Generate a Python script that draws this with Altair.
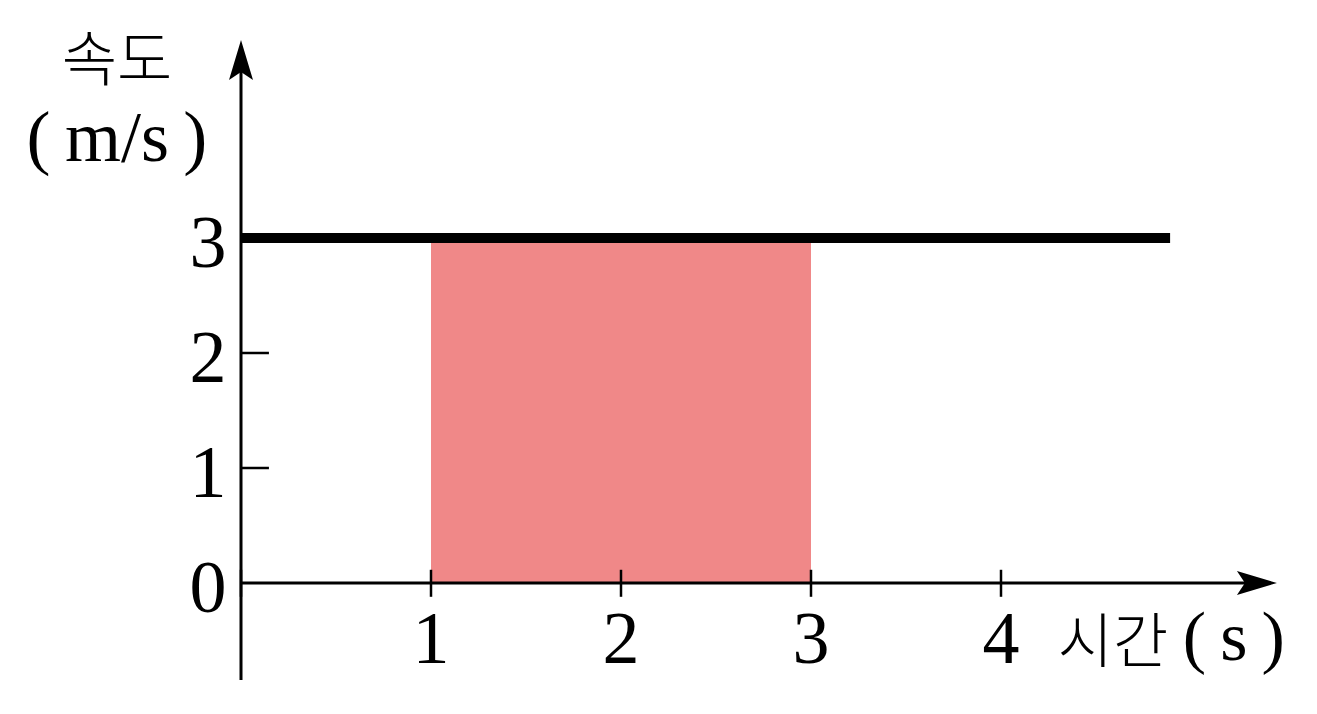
import altair as alt
import pandas as pd

# ---- data ----
x_ticks = [1, 2, 3, 4]
y_ticks = [0, 1, 2, 3]
x_tick_labels = ["1", "2", "3", "4"]
y_tick_labels = ["0", "1", "2", "3"]
speed = [3, 3]            # constant speed (m/s)
speed_t = [0, 4.89]       # time span of the drawn line
area_t = [1, 3]           # shaded interval
x_title = "시간"
x_unit = "(\u2009s\u2009)"
y_title = "속도"
y_unit = "(\u2009m/s\u2009)"

# ---- layout ----
W, H = 1301, 698
XD = [-233 / 190, (W - 233) / 190]
YD = [(575 - H) / 115, 575 / 115]
xs = alt.Scale(domain=XD, nice=False, zero=False)
ys = alt.Scale(domain=YD, nice=False, zero=False)
X = lambda f, **k: alt.X(f, scale=xs, axis=None, **k)
Y = lambda f, **k: alt.Y(f, scale=ys, axis=None, **k)

SERIF = "Liberation Serif"
KR = "Noto Sans CJK KR"

rect = alt.Chart(pd.DataFrame({"x": [area_t[0]], "x2": [area_t[1]], "y": [0], "y2": [speed[0]]})).mark_rect(
    color="#F08888").encode(x=X("x:Q"), x2="x2:Q", y=Y("y:Q"), y2="y2:Q")

speed_line = alt.Chart(pd.DataFrame({"t": speed_t, "v": speed})).mark_line(
    color="black", strokeWidth=10, strokeCap="butt").encode(x=X("t:Q"), y=Y("v:Q"))

axes_df = pd.DataFrame({
    "x": [0, 0], "x2": [5.30, 0], "y": [0, -0.843], "y2": [0, 4.5]})
axes = alt.Chart(axes_df).mark_rule(color="black", strokeWidth=3).encode(
    x=X("x:Q"), x2="x2:Q", y=Y("y:Q"), y2="y2:Q")

xt = alt.Chart(pd.DataFrame({"x": [0] + x_ticks})).mark_rule(color="black", strokeWidth=2.5).encode(
    x=X("x:Q"), y=alt.Y("a:Q", scale=ys, axis=None), y2="b:Q").transform_calculate(a="0.115", b="-0.12")
yt = alt.Chart(pd.DataFrame({"y": y_ticks[1:]})).mark_rule(color="black", strokeWidth=2.5).encode(
    y=Y("y:Q"), x=alt.X("a:Q", scale=xs, axis=None), x2="b:Q").transform_calculate(a="0", b="0.147")

up_arrow = "M0,-1 L0.6,1 L0,0.6 L-0.6,1 Z"
right_arrow = "M1,0 L-1,-0.6 L-0.6,0 L-1,0.6 Z"
arrows = alt.Chart(pd.DataFrame({"x": [0, 5.347], "y": [4.548, 0], "s": [up_arrow, right_arrow]})).mark_point(
    filled=True, color="black", opacity=1, size=1600, strokeWidth=0).encode(
    x=X("x:Q"), y=Y("y:Q"), shape=alt.Shape("s:N", scale=None, legend=None))

xl = alt.Chart(pd.DataFrame({"x": x_ticks, "l": x_tick_labels})).mark_text(
    font=SERIF, fontSize=74, baseline="middle", align="center").encode(
    x=X("x:Q"), y=alt.value(633), text="l:N")
yl = alt.Chart(pd.DataFrame({"y": y_ticks, "l": y_tick_labels})).mark_text(
    font=SERIF, fontSize=74, baseline="middle", align="center", dy=7).encode(
    y=Y("y:Q"), x=alt.value(200), text="l:N")

kr = alt.Chart(pd.DataFrame({"x": [-0.653, 4.589], "y": [4.52, -0.539], "l": [y_title, x_title]})).mark_text(
    font=KR, fontSize=60, fontWeight=300, baseline="middle", align="center").encode(
    x=X("x:Q"), y=Y("y:Q"), text="l:N")
units = alt.Chart(pd.DataFrame({"x": [-0.653, 5.225], "y": [3.86, -0.49], "l": [y_unit, x_unit],
                                "fs": [72, 70]})).mark_text(
    font=SERIF, baseline="middle", align="center").encode(
    x=X("x:Q"), y=Y("y:Q"), text="l:N", size=alt.Size("fs:Q", scale=None, legend=None))

chart = alt.layer(rect, speed_line, axes, xt, yt, arrows, xl, yl, kr, units).properties(
    width=W, height=H, padding=0, autosize=alt.AutoSizeParams(type="none")
).configure_view(stroke="transparent", strokeWidth=0)

chart.save("out.html", embed_options={"renderer": "svg", "actions": False})
